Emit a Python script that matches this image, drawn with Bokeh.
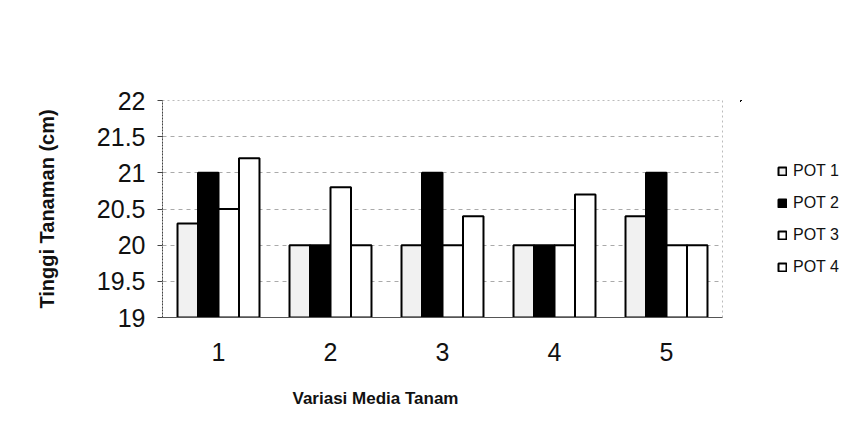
from bokeh.plotting import figure
from bokeh.layouts import row
from bokeh.models import (FactorRange, Range1d, ColumnDataSource, Legend, LegendItem,
                          Title, FixedTicker)
from bokeh.transform import dodge
from bokeh.embed import file_html
from bokeh.resources import INLINE

categories = ["1", "2", "3", "4", "5"]
series_names = ["POT 1", "POT 2", "POT 3", "POT 4"]
pot1 = [20.3, 20.0, 20.0, 20.0, 20.4]
pot2 = [21.0, 20.0, 21.0, 20.0, 21.0]
pot3 = [20.5, 20.8, 20.0, 20.0, 20.0]
pot4 = [21.2, 20.0, 20.4, 20.7, 20.0]
y_ticks = [19, 19.5, 20, 20.5, 21, 21.5, 22]
x_title = "Variasi Media Tanam"
y_title = "Tinggi Tanaman (cm)"

keys = ["pot1", "pot2", "pot3", "pot4"]
fills = ["#f1f1f1", "#000000", "#ffffff", "#ffffff"]
FONT = "Liberation Sans"

source = ColumnDataSource(dict(cat=categories, pot1=pot1, pot2=pot2, pot3=pot3, pot4=pot4))

p = figure(width=740, height=432, x_range=FactorRange(*categories), y_range=Range1d(19, 22),
           output_backend="svg", toolbar_location=None,
           min_border_left=162, min_border_right=18, min_border_top=100, min_border_bottom=115)

bw = 0.183
offsets = [-1.5 * bw, -0.5 * bw, 0.5 * bw, 1.5 * bw]
for key, off, col in zip(keys, offsets, fills):
    p.vbar(x=dodge("cat", off, range=p.x_range), top=key, bottom=19, width=bw,
           source=source, fill_color=col, line_color="#000000", line_width=2)

# axes
ya = p.yaxis[0]
ya.ticker = FixedTicker(ticks=y_ticks)
ya.major_label_text_font = FONT
ya.major_label_text_font_size = "25px"
ya.major_label_text_color = "#111111"
ya.major_tick_out = 5
ya.major_tick_in = 0
ya.minor_tick_line_color = None
ya.major_label_standoff = 12
ya.axis_line_color = "#444444"
ya.axis_line_dash = "2 1"
ya.major_tick_line_color = "#444444"
ya.axis_label = y_title
ya.axis_label_text_font = FONT
ya.axis_label_text_font_style = "bold"
ya.axis_label_text_font_size = "20px"
ya.axis_label_text_color = "#111111"
ya.axis_label_standoff = 36

xa = p.xaxis[0]
xa.major_label_text_font = FONT
xa.major_label_text_font_size = "25px"
xa.major_label_text_color = "#111111"
xa.major_tick_line_color = None
xa.major_label_standoff = 19
xa.axis_line_color = "#555555"

p.xgrid.grid_line_color = None
p.ygrid.grid_line_color = "#aaaaaa"
p.ygrid.grid_line_dash = "4 4"
p.outline_line_color = "#bbbbbb"
p.outline_line_dash = "2 3"

p.add_layout(Title(text=x_title, align="left", offset=130, standoff=47,
                   text_font=FONT, text_font_style="bold", text_font_size="17px",
                   text_color="#111111"), "below")

# legend panel (its frame is aligned with the chart's frame in the row)
q = figure(width=106, height=432, output_backend="svg", toolbar_location=None,
           x_axis_type=None, y_axis_type=None, min_border=0,
           x_range=Range1d(1, 2), y_range=Range1d(0, 1))
q.outline_line_color = None
q.xgrid.grid_line_color = None
q.ygrid.grid_line_color = None
# proxies for the legend swatches: same data, lying outside this panel's visible ranges
proxies = [q.vbar(x=0.5, top=key, bottom=19, width=0.1, source=source,
                  fill_color=col, line_color="#000000", line_width=2)
           for key, col in zip(keys, fills)]
legend = Legend(items=[LegendItem(label=n, renderers=[r]) for n, r in zip(series_names, proxies)],
                location=(37, 40), margin=0, glyph_width=10, glyph_height=10, label_standoff=6,
                spacing=12, padding=0, border_line_color=None, background_fill_alpha=0,
                label_text_font=FONT, label_text_font_size="16px", label_height=20,
                label_text_color="#111111")
q.add_layout(legend)

layout = row(p, q, spacing=0)
open("out.html", "w").write(file_html(layout, INLINE))
